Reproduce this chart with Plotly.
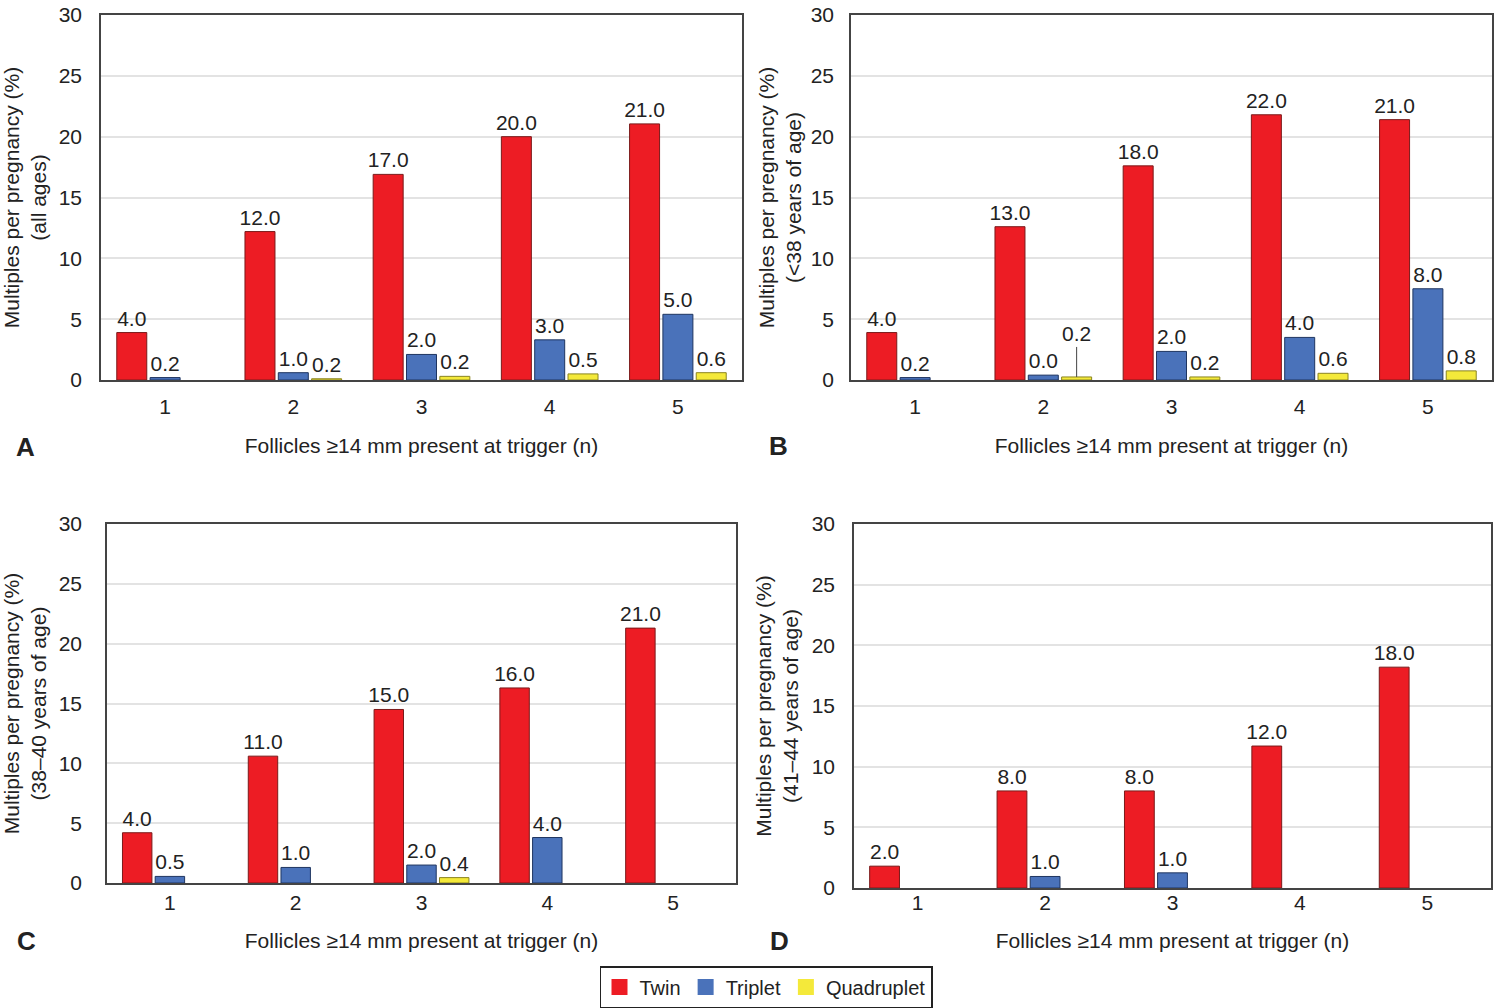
import plotly.graph_objects as go

categories = [1, 2, 3, 4, 5]
tick_text = ["1", "2", "3", "4", "5"]
series_names = ["Twin", "Triplet", "Quadruplet"]

# None = no bar drawn for that group
# Panel A (all ages)
twin_A = [3.9, 12.2, 16.9, 20.0, 21.05]
trip_A = [0.2, 0.6, 2.1, 3.3, 5.4]
quad_A = [None, 0.1, 0.3, 0.5, 0.6]
twin_A_lbl = ["4.0", "12.0", "17.0", "20.0", "21.0"]
trip_A_lbl = ["0.2", "1.0", "2.0", "3.0", "5.0"]
quad_A_lbl = ["", "0.2", "0.2", "0.5", "0.6"]

# Panel B (<38 years)
twin_B = [3.9, 12.6, 17.6, 21.8, 21.4]
trip_B = [0.2, 0.4, 2.35, 3.5, 7.5]
quad_B = [None, 0.25, 0.25, 0.55, 0.75]
twin_B_lbl = ["4.0", "13.0", "18.0", "22.0", "21.0"]
trip_B_lbl = ["0.2", "0.0", "2.0", "4.0", "8.0"]
quad_B_lbl = ["", "", "0.2", "0.6", "0.8"]
quad_B_callout = "0.2"  # label for group 2, drawn with a leader line

# Panel C (38-40 years)
twin_C = [4.2, 10.6, 14.5, 16.3, 21.3]
trip_C = [0.55, 1.3, 1.5, 3.8, None]
quad_C = [None, None, 0.45, None, None]
twin_C_lbl = ["4.0", "11.0", "15.0", "16.0", "21.0"]
trip_C_lbl = ["0.5", "1.0", "2.0", "4.0", ""]
quad_C_lbl = ["", "", "0.4", "", ""]

# Panel D (41-44 years)
twin_D = [1.8, 8.0, 8.0, 11.7, 18.2]
trip_D = [None, 0.95, 1.25, None, None]
quad_D = [None, None, None, None, None]
twin_D_lbl = ["2.0", "8.0", "8.0", "12.0", "18.0"]
trip_D_lbl = ["", "1.0", "1.0", "", ""]
quad_D_lbl = ["", "", "", "", ""]

y_titles = [
    "Multiples per pregnancy (%)<br>(all ages)",
    "Multiples per pregnancy (%)<br>(<38 years of age)",
    "Multiples per pregnancy (%)<br>(38\u201340 years of age)",
    "Multiples per pregnancy (%)<br>(41\u201344 years of age)",
]
x_title = "Follicles \u226514 mm present at trigger (n)"
panel_letters = ["A", "B", "C", "D"]
y_ticks = [0, 5, 10, 15, 20, 25, 30]

colors = ["#ED1C24", "#4A72BA", "#F4E93A"]
edge = ["#7a1a1a", "#1f3560", "#8a8420"]

W, H = 1500, 1008
# plot boxes in screen pixels (left, right, top, bottom)
boxes = [
    (101, 742, 15, 380),
    (851, 1492, 15, 380),
    (107, 736, 524, 883),
    (854, 1491, 524, 888),
]
# per panel: x-tick standoff, x-title standoff, y-tick standoff, y-title standoff
spacing = [
    (7, 21, 13, 18),
    (7, 21, 11, 3),
    (0, 20, 19, 23),
    (-5, 20, 13, 7),
]
letter_pos = [(25, 447), (778, 446), (26, 941), (779, 941)]
FS = 21

FONT = "Liberation Sans, Arial, sans-serif"


def px(x):
    return x / W


def py(y):
    return 1 - y / H


panels = [
    (twin_A, trip_A, quad_A, twin_A_lbl, trip_A_lbl, quad_A_lbl),
    (twin_B, trip_B, quad_B, twin_B_lbl, trip_B_lbl, quad_B_lbl),
    (twin_C, trip_C, quad_C, twin_C_lbl, trip_C_lbl, quad_C_lbl),
    (twin_D, trip_D, quad_D, twin_D_lbl, trip_D_lbl, quad_D_lbl),
]

fig = go.Figure()
layout = dict(
    width=W, height=H, margin=dict(l=0, r=0, t=0, b=0, autoexpand=False),
    paper_bgcolor="white", plot_bgcolor="white",
    barmode="group", bargap=0.22, bargroupgap=0.1,
    font=dict(family=FONT, size=FS, color="#222"),
    showlegend=True,
    legend=dict(orientation="h", x=px(766), xanchor="center", y=py(987), yanchor="middle",
                bordercolor="#222", borderwidth=1.5, font=dict(size=FS - 1, color="#222"),
                itemwidth=30, tracegroupgap=0, bgcolor="white"),
    annotations=[],
)

for i, (data, box) in enumerate(zip(panels, boxes)):
    n = i + 1
    xa = "x" if n == 1 else f"x{n}"
    ya = "y" if n == 1 else f"y{n}"
    for k in range(3):
        fig.add_trace(go.Bar(
            x=categories, y=data[k], text=data[k + 3], name=series_names[k],
            xaxis=xa, yaxis=ya, showlegend=False, legendgroup=series_names[k],
            marker=dict(color=colors[k], line=dict(color=edge[k], width=1)),
            textposition="outside", constraintext="none", cliponaxis=False,
            textfont=dict(size=FS, color="#222"), hoverinfo="skip",
        ))
    l, r, t, b = box
    xs, xts, ys, yts = spacing[i]
    xkey = "xaxis" if n == 1 else f"xaxis{n}"
    ykey = "yaxis" if n == 1 else f"yaxis{n}"
    layout[xkey] = dict(
        domain=[px(l), px(r)], anchor=ya, range=[0.5, 5.5], tickvals=categories, ticktext=tick_text,
        showline=True, linecolor="#444", linewidth=1.5, mirror=True, showgrid=False,
        ticks="", ticklabelstandoff=xs, tickfont=dict(size=FS, color="#222"),
        ticklabeloverflow="allow",
        title=dict(text=x_title, standoff=xts, font=dict(size=FS, color="#222")),
        zeroline=False, fixedrange=True, automargin=False,
    )
    layout[ykey] = dict(
        domain=[py(b), py(t)], anchor=xa, range=[0, 30], tickvals=y_ticks,
        showline=True, linecolor="#444", linewidth=1.5, mirror=True,
        showgrid=True, gridcolor="#e3e3e3", gridwidth=2, zeroline=False,
        ticks="", ticklabelstandoff=ys, tickfont=dict(size=FS, color="#222"),
        ticklabeloverflow="allow",
        title=dict(text=y_titles[i], standoff=yts, font=dict(size=FS, color="#222")),
        fixedrange=True, automargin=False,
    )
    lx, ly = letter_pos[i]
    layout["annotations"].append(dict(
        text=f"<b>{panel_letters[i]}</b>", xref="paper", yref="paper",
        x=px(lx), y=py(ly), xanchor="center", yanchor="middle",
        showarrow=False, font=dict(size=26, color="#222"),
    ))

# legend entries with large square swatches
for k in range(3):
    fig.add_trace(go.Scatter(
        x=[None], y=[None], mode="markers", name=series_names[k], legendgroup=series_names[k],
        marker=dict(symbol="square", size=19, color=colors[k], line=dict(width=0)),
        showlegend=True, hoverinfo="skip",
    ))

# callout label for panel B, group 2 quadruplet
layout["annotations"].append(dict(
    text=quad_B_callout, xref="x2", yref="y2", x=categories[1] + 0.26, y=quad_B[1],
    showarrow=True, arrowhead=0, arrowwidth=1, arrowcolor="#444", ax=0, ay=-30,
    yanchor="bottom", font=dict(size=FS, color="#222"),
))

fig.update_layout(**layout)
fig.write_html("out.html", config={"displayModeBar": False},
               post_script="document.body.style.margin='0px';")
